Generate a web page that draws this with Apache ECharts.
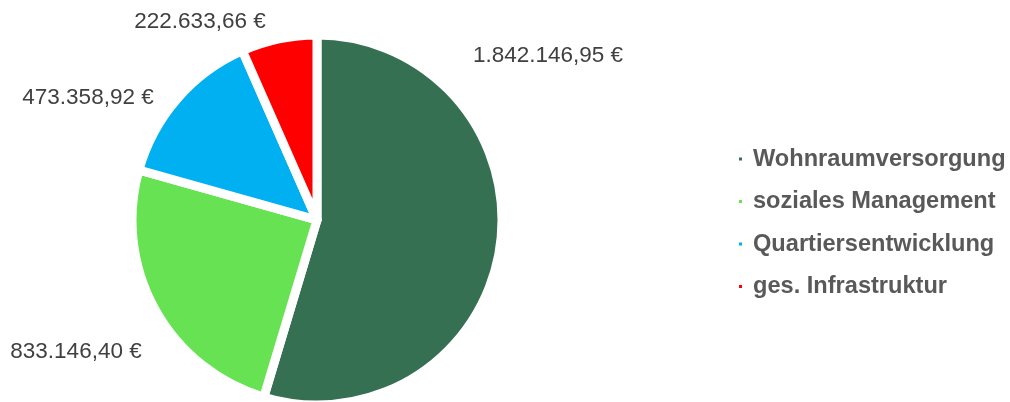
<!DOCTYPE html>
<html>
<head>
<meta charset="utf-8">
<script src="https://cdn.jsdelivr.net/npm/echarts@6/dist/echarts.min.js"></script>
<style>
html,body{margin:0;padding:0;background:#fff;}
#chart{width:1010px;height:402px;}
</style>
</head>
<body>
<div id="chart"></div>
<script>
const categories = ['Wohnraumversorgung', 'soziales Management', 'Quartiersentwicklung', 'ges. Infrastruktur'];
const values = [1842146.95, 833146.40, 473358.92, 222633.66];
const colors = ['#357053', '#66E252', '#00B0F0', '#FF0000'];

// label anchor positions (text centres), as placed in the reference
const labelPos = [[548, 56], [76, 352], [88, 98], [200, 22]];

function fmtEuro(v) {
  const parts = v.toFixed(2).split('.');
  const intPart = parts[0].replace(/\B(?=(\d{3})+(?!\d))/g, '.');
  return intPart + ',' + parts[1] + ' €';
}

const chart = echarts.init(document.getElementById('chart'), null, {renderer: 'canvas'});
chart.setOption({
  animation: false,
  backgroundColor: '#ffffff',
  legend: {
    orient: 'vertical',
    left: 737,
    top: 147,
    padding: 0,
    itemGap: 18.5,
    itemWidth: 5,
    itemHeight: 5,
    icon: 'rect',
    data: categories,
    textStyle: {
      fontFamily: 'Liberation Sans, Arial, sans-serif',
      fontSize: 23.6,
      fontWeight: 'bold',
      color: '#595959',
      lineHeight: 23.5,
      padding: [0, 0, 0, 5]
    }
  },
  series: [{
    type: 'pie',
    center: [317, 220],
    radius: 185,
    startAngle: 90,
    clockwise: true,
    avoidLabelOverlap: false,
    itemStyle: { borderColor: '#ffffff', borderWidth: 9 },
    label: {
      show: true,
      position: 'outside',
      formatter: p => fmtEuro(p.value),
      fontFamily: 'Liberation Sans, Arial, sans-serif',
      fontSize: 22.5,
      color: '#404040'
    },
    labelLine: { show: false },
    labelLayout: function (params) {
      const pos = labelPos[params.dataIndex];
      return { x: pos[0], y: pos[1], align: 'center', verticalAlign: 'middle' };
    },
    emphasis: { disabled: true },
    data: categories.map((c, i) => ({ name: c, value: values[i], itemStyle: { color: colors[i] } }))
  }]
});
</script>
</body>
</html>
